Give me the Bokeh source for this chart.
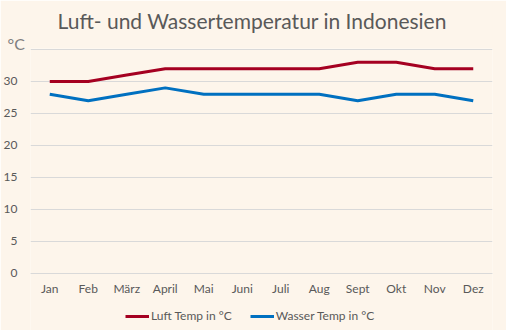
from bokeh.plotting import figure
from bokeh.models import Legend, LegendItem, Title, FixedTicker, ColumnDataSource, Range1d
from bokeh.embed import file_html
from bokeh.resources import INLINE

months = ["Jan", "Feb", "März", "April", "Mai", "Juni", "Juli", "Aug", "Sept", "Okt", "Nov", "Dez"]
luft = [30, 30, 31, 32, 32, 32, 32, 32, 33, 33, 32, 32]
wasser = [28, 27, 28, 29, 28, 28, 28, 28, 27, 28, 28, 27]
y_ticks = [0, 5, 10, 15, 20, 25, 30, 35]

BG = "#FDF5EB"
TXT = "#595959"
FONT = "Lato"

src = ColumnDataSource(dict(m=months, luft=luft, wasser=wasser))

# frame reaches the bottom of the window; the category axis is pinned at y=0
p = figure(frame_width=462, frame_height=282, x_range=months, y_range=Range1d(-8.906, 35.15),
           output_backend="svg", toolbar_location=None,
           background_fill_color=BG, border_fill_color=BG,
           min_border_left=30, min_border_right=14, min_border_top=48, min_border_bottom=0,
           title="Luft- und Wassertemperatur in Indonesien")
p.outline_line_color = None
p.title.align = "left"
p.title.offset = 27
p.title.text_font = FONT
p.title.text_font_size = "21px"
p.title.text_font_style = "normal"
p.title.text_color = TXT
p.title.standoff = 5

# unit label next to the top gridline
p.add_layout(Title(text="°C", align="left", offset=-23, standoff=-8,
                   text_font=FONT, text_font_size="16px", text_font_style="normal",
                   text_color="#7F7F7F"), "above")

r1 = p.line("m", "luft", source=src, line_color="#A50021", line_width=3)
r2 = p.line("m", "wasser", source=src, line_color="#0070C0", line_width=3)

p.yaxis.ticker = FixedTicker(ticks=y_ticks)
p.yaxis.major_label_overrides = {35: ""}
p.yaxis.axis_line_color = None
p.yaxis.major_tick_line_color = None
p.yaxis.minor_tick_line_color = None
p.yaxis.major_tick_out = 0
p.yaxis.major_tick_in = 0
p.yaxis.minor_tick_out = 0
p.yaxis.major_label_text_font = FONT
p.yaxis.major_label_text_font_size = "12px"
p.yaxis.major_label_text_color = TXT
p.yaxis.major_label_standoff = 13

p.xaxis.fixed_location = 0
p.xaxis.axis_line_color = "#D9D9D9"
p.xaxis.major_tick_line_color = None
p.xaxis.minor_tick_line_color = None
p.xaxis.major_tick_out = 0
p.xaxis.major_tick_in = 0
p.xaxis.minor_tick_out = 0
p.xaxis.major_label_text_font = FONT
p.xaxis.major_label_text_font_size = "12px"
p.xaxis.major_label_text_color = TXT
p.xaxis.major_label_standoff = 8

p.xgrid.grid_line_color = None
p.ygrid.grid_line_color = "#D9D9D9"
p.ygrid.ticker = FixedTicker(ticks=y_ticks)

legend = Legend(items=[LegendItem(label="Luft Temp in °C", renderers=[r1]),
                       LegendItem(label="Wasser Temp in °C", renderers=[r2])],
                orientation="horizontal", location=(95, 7),
                background_fill_color=BG, background_fill_alpha=0, border_line_color=None,
                glyph_width=24, glyph_height=14, label_height=14, label_standoff=2,
                spacing=18, padding=0, margin=0,
                label_text_font=FONT, label_text_font_size="12px", label_text_color=TXT)
p.add_layout(legend)

open("out.html", "w").write(file_html(p, INLINE))
